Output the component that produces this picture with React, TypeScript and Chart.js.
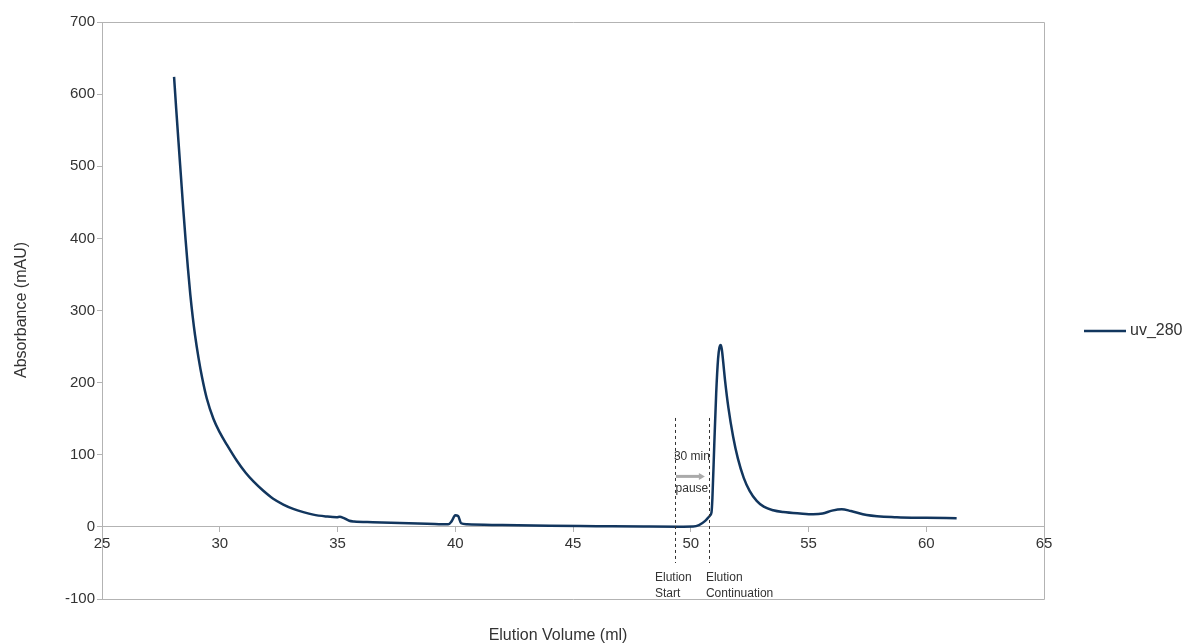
import React, { useEffect, useRef } from "react";
import { Chart, registerables } from "chart.js";

Chart.register(...registerables);

// Elution volume (ml)
const volumes: number[] = [
  28.06, 28.15, 28.25, 28.35, 28.45, 28.55, 28.65, 28.75, 28.85, 28.95, 29.1, 29.25, 29.45, 29.73,
  30.0, 30.3, 30.72, 31.1, 31.43, 31.85, 32.27, 32.7, 33.12, 33.55, 33.97, 34.5, 34.97, 35.1,
  35.25, 35.5, 35.7, 36.5, 37.65, 38.8, 39.7, 39.85, 40.0, 40.12, 40.25, 40.5,
  42, 44, 46, 48, 49.5, 50.1, 50.35, 50.6, 50.8, 50.88, 50.92, 51.0, 51.08, 51.16, 51.22, 51.27,
  51.32, 51.38, 51.45, 51.6, 51.8, 52.0, 52.25, 52.5, 52.8, 53.1, 53.5, 53.93, 54.64, 55.2, 55.6,
  56.0, 56.41, 56.8, 57.47, 58.75, 60, 61.29,
];
// UV 280 absorbance (mAU)
const uv280: number[] = [
  624, 580, 533, 487, 441, 398, 358, 322, 292, 266, 234, 207, 178, 150,
  131, 114, 92, 75, 63, 50, 39, 31, 25, 20.5, 17, 14.5, 13.2, 14,
  12.5, 8.5, 7.5, 6.5, 5.5, 4.5, 3.5, 8, 16, 15, 5, 3.5,
  2.5, 1.5, 1, 0.5, 0.3, 0.5, 2.5, 8, 15, 20, 40, 115, 185, 233, 249, 252,
  246, 228, 205, 165, 125, 95, 68, 50, 36, 28, 23, 20.5, 18.5, 17.5, 18.5,
  22.5, 24.5, 22, 16.6, 13.4, 12.5, 12,
];

const seriesName = "uv_280";
const xTitle = "Elution Volume (ml)";
const yTitle = "Absorbance (mAU)";
const xMin = 25, xMax = 65, xStep = 5;
const yMin = -100, yMax = 700, yStep = 100;

// Annotation markers (data units)
const elutionStartX = 49.33;
const elutionContinueX = 50.77;
const markerTop = 151;
const markerBottom = -50;
const pauseLabel = ["30 min", "pause"];
const startLabel = ["Elution", "Start"];
const continueLabel = ["Elution", "Continuation"];

const LINE_COLOR = "#12365e";
const AXIS_COLOR = "#b3b3b3";
const TEXT_COLOR = "#333333";
const FONT = "'Liberation Sans', Arial, sans-serif";

export default function App() {
  const ref = useRef<HTMLCanvasElement | null>(null);

  useEffect(() => {
    document.body.style.margin = "0";
    const canvas = ref.current;
    if (!canvas) return;

    const overlay = {
      id: "overlay",
      afterDraw(chart: any) {
        const { ctx, chartArea, scales } = chart;
        const xs = scales.x;
        const ys = scales.y;
        ctx.save();
        // frame: top, right, bottom
        ctx.strokeStyle = AXIS_COLOR;
        ctx.lineWidth = 1;
        ctx.beginPath();
        ctx.moveTo(chartArea.left, chartArea.top + 0.5);
        ctx.lineTo(chartArea.right + 0.5, chartArea.top + 0.5);
        ctx.lineTo(chartArea.right + 0.5, chartArea.bottom + 0.5);
        ctx.lineTo(chartArea.left, chartArea.bottom + 0.5);
        ctx.stroke();

        // dashed markers
        ctx.strokeStyle = "#333333";
        ctx.setLineDash([3, 3]);
        ctx.lineWidth = 1;
        [elutionStartX, elutionContinueX].forEach((v) => {
          const px = Math.round(xs.getPixelForValue(v)) + 0.5;
          ctx.beginPath();
          ctx.moveTo(px, ys.getPixelForValue(markerTop));
          ctx.lineTo(px, ys.getPixelForValue(markerBottom));
          ctx.stroke();
        });
        ctx.setLineDash([]);

        // arrow
        const ay = ys.getPixelForValue(70);
        const ax1 = xs.getPixelForValue(elutionStartX) + 1;
        const ax2 = xs.getPixelForValue(elutionContinueX) - 4;
        ctx.strokeStyle = "#aaaaaa";
        ctx.fillStyle = "#aaaaaa";
        ctx.lineWidth = 3;
        ctx.beginPath();
        ctx.moveTo(ax1, ay);
        ctx.lineTo(ax2 - 4, ay);
        ctx.stroke();
        ctx.beginPath();
        ctx.moveTo(ax2, ay);
        ctx.lineTo(ax2 - 6, ay - 3.5);
        ctx.lineTo(ax2 - 6, ay + 3.5);
        ctx.closePath();
        ctx.fill();

        // annotation texts
        ctx.fillStyle = TEXT_COLOR;
        ctx.font = `12px ${FONT}`;
        ctx.textBaseline = "middle";
        ctx.textAlign = "center";
        const cx = (xs.getPixelForValue(elutionStartX) + xs.getPixelForValue(elutionContinueX)) / 2;
        ctx.fillText(pauseLabel[0], cx, ys.getPixelForValue(97));
        ctx.fillText(pauseLabel[1], cx, ys.getPixelForValue(53));
        ctx.textAlign = "left";
        const sx = xs.getPixelForValue(elutionStartX) - 20;
        const cxx = xs.getPixelForValue(elutionContinueX) - 3;
        const l1 = ys.getPixelForValue(-70);
        const l2 = ys.getPixelForValue(-92);
        ctx.fillText(startLabel[0], sx, l1);
        ctx.fillText(startLabel[1], sx, l2);
        ctx.fillText(continueLabel[0], cxx, l1);
        ctx.fillText(continueLabel[1], cxx, l2);

        // axis titles
        ctx.font = `16px ${FONT}`;
        ctx.textAlign = "center";
        ctx.fillText(xTitle, (chartArea.left + chartArea.right) / 2 - 15, 636);
        ctx.save();
        ctx.translate(22, 310);
        ctx.rotate(-Math.PI / 2);
        ctx.fillText(yTitle, 0, 0);
        ctx.restore();

        // legend
        ctx.strokeStyle = LINE_COLOR;
        ctx.lineWidth = 2.5;
        ctx.beginPath();
        ctx.moveTo(1084, 331);
        ctx.lineTo(1126, 331);
        ctx.stroke();
        ctx.fillStyle = TEXT_COLOR;
        ctx.font = `16px ${FONT}`;
        ctx.textAlign = "left";
        ctx.fillText(seriesName, 1130, 331);
        ctx.restore();
      },
    };

    const chart = new Chart(canvas, {
      type: "line",
      data: {
        datasets: [
          {
            label: seriesName,
            data: volumes.map((v, i) => ({ x: v, y: uv280[i] })),
            borderColor: LINE_COLOR,
            borderWidth: 2.5,
            pointRadius: 0,
            fill: false,
            cubicInterpolationMode: "monotone",
          },
        ],
      },
      options: {
        animation: false,
        responsive: false,
        devicePixelRatio: 1,
        layout: { padding: { top: 22, right: 144, bottom: 44, left: 0 } },
        plugins: { legend: { display: false }, tooltip: { enabled: false } },
        scales: {
          x: {
            type: "linear",
            position: { y: 0 },
            min: xMin,
            max: xMax,
            ticks: {
              stepSize: xStep,
              color: TEXT_COLOR,
              font: { family: FONT, size: 15 },
              padding: 3,
              maxRotation: 0,
            },
            grid: { drawOnChartArea: false, drawTicks: true, tickLength: 5, color: AXIS_COLOR },
            border: { color: AXIS_COLOR },
          },
          y: {
            type: "linear",
            min: yMin,
            max: yMax,
            afterFit(scale: any) {
              scale.width = 102;
            },
            ticks: {
              stepSize: yStep,
              color: TEXT_COLOR,
              font: { family: FONT, size: 15 },
              padding: 2,
            },
            grid: { drawOnChartArea: false, drawTicks: true, tickLength: 5, color: AXIS_COLOR },
            border: { color: AXIS_COLOR },
          },
        },
      },
      plugins: [overlay],
    } as any);

    return () => chart.destroy();
  }, []);

  return (
    <div style={{ width: 1188, height: 643 }}>
      <canvas ref={ref} width={1188} height={643} style={{ display: "block" }} />
    </div>
  );
}
